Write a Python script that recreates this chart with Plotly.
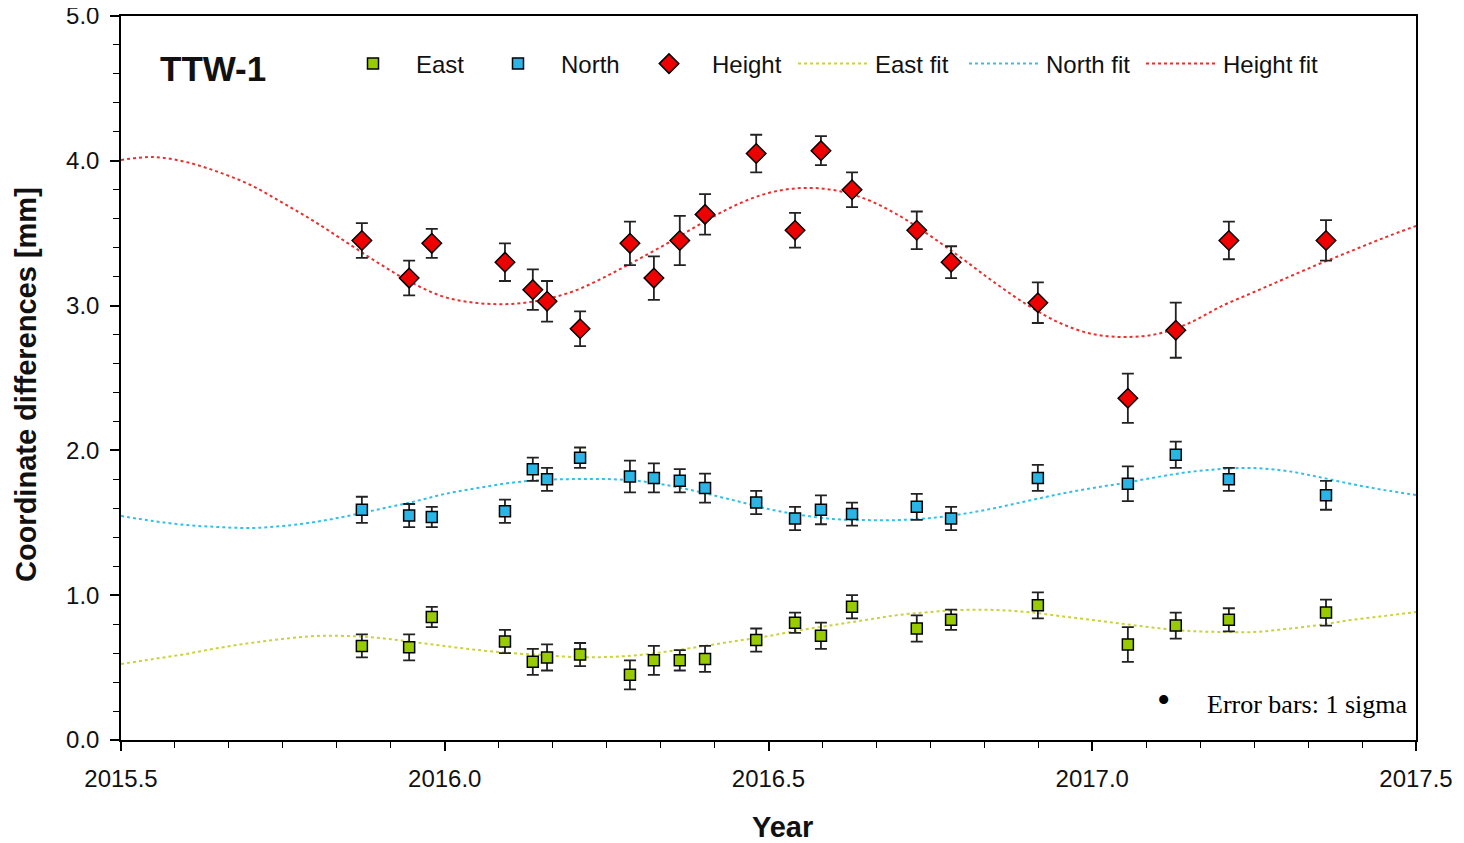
import plotly.graph_objects as go

# ---------------- data ----------------
t_obs = [2015.872, 2015.945, 2015.980, 2016.093, 2016.136, 2016.158, 2016.209,
         2016.286, 2016.323, 2016.363, 2016.402, 2016.481, 2016.541, 2016.581,
         2016.629, 2016.729, 2016.782, 2016.916, 2017.055, 2017.129, 2017.211,
         2017.361]

east = [0.65, 0.64, 0.85, 0.68, 0.54, 0.57, 0.59, 0.45, 0.55, 0.55, 0.56,
        0.69, 0.81, 0.72, 0.92, 0.77, 0.83, 0.93, 0.66, 0.79, 0.83, 0.88]
east_err = [0.08, 0.09, 0.07, 0.08, 0.09, 0.09, 0.08, 0.10, 0.10, 0.07, 0.09,
            0.08, 0.07, 0.09, 0.08, 0.09, 0.07, 0.09, 0.12, 0.09, 0.08, 0.09]

north = [1.59, 1.55, 1.54, 1.58, 1.87, 1.80, 1.95, 1.82, 1.81, 1.79, 1.74,
         1.64, 1.53, 1.59, 1.56, 1.61, 1.53, 1.81, 1.77, 1.97, 1.80, 1.69]
north_err = [0.09, 0.08, 0.07, 0.08, 0.08, 0.08, 0.07, 0.11, 0.10, 0.08, 0.10,
             0.08, 0.08, 0.10, 0.08, 0.09, 0.08, 0.09, 0.12, 0.09, 0.08, 0.10]

height = [3.45, 3.19, 3.43, 3.30, 3.11, 3.03, 2.84, 3.43, 3.19, 3.45, 3.63,
          4.05, 3.52, 4.07, 3.80, 3.52, 3.30, 3.02, 2.36, 2.83, 3.45, 3.45]
height_err = [0.12, 0.12, 0.10, 0.13, 0.14, 0.14, 0.12, 0.15, 0.15, 0.17, 0.14,
              0.13, 0.12, 0.10, 0.12, 0.13, 0.11, 0.14, 0.17, 0.19, 0.13, 0.14]

t_fit = [2015.50, 2015.55, 2015.60, 2015.65, 2015.70, 2015.75, 2015.80, 2015.85,
         2015.90, 2015.95, 2016.00, 2016.05, 2016.10, 2016.15, 2016.20, 2016.25,
         2016.30, 2016.35, 2016.40, 2016.45, 2016.50, 2016.55, 2016.60, 2016.65,
         2016.70, 2016.75, 2016.80, 2016.85, 2016.90, 2016.95, 2017.00, 2017.05,
         2017.10, 2017.15, 2017.20, 2017.25, 2017.30, 2017.35, 2017.40, 2017.45,
         2017.50]

east_fit = [0.525, 0.559, 0.594, 0.635, 0.670, 0.698, 0.718, 0.718, 0.704, 0.677,
            0.649, 0.622, 0.601, 0.587, 0.573, 0.573, 0.587, 0.615, 0.649, 0.684,
            0.718, 0.760, 0.794, 0.829, 0.863, 0.884, 0.898, 0.898, 0.884, 0.856,
            0.829, 0.801, 0.773, 0.753, 0.746, 0.746, 0.767, 0.794, 0.829, 0.856,
            0.884]

north_fit = [1.547, 1.512, 1.485, 1.471, 1.464, 1.478, 1.506, 1.547, 1.595, 1.644,
             1.699, 1.740, 1.775, 1.796, 1.802, 1.802, 1.789, 1.754, 1.706, 1.651,
             1.595, 1.554, 1.526, 1.519, 1.519, 1.533, 1.561, 1.602, 1.651, 1.699,
             1.740, 1.775, 1.816, 1.851, 1.872, 1.878, 1.858, 1.816, 1.768, 1.727,
             1.692]

height_fit = [4.006, 4.026, 3.992, 3.923, 3.833, 3.709, 3.577, 3.432, 3.287, 3.156,
              3.059, 3.018, 3.011, 3.039, 3.101, 3.204, 3.322, 3.446, 3.577, 3.695,
              3.778, 3.812, 3.798, 3.736, 3.626, 3.481, 3.322, 3.156, 3.004, 2.880,
              2.804, 2.783, 2.804, 2.880, 2.997, 3.094, 3.191, 3.287, 3.377, 3.467,
              3.550]

x_ticks = [2015.5, 2016.0, 2016.5, 2017.0, 2017.5]
x_tick_labels = ["2015.5", "2016.0", "2016.5", "2017.0", "2017.5"]
y_ticks = [0, 1, 2, 3, 4, 5]
y_tick_labels = ["0.0", "1.0", "2.0", "3.0", "4.0", "5.0"]

# ---------------- styles ----------------
SANS = "Liberation Sans, Arial, sans-serif"
C_EAST, C_NORTH, C_HEIGHT = "#99cc00", "#29b6e6", "#ee0000"
C_EAST_FIT, C_NORTH_FIT, C_HEIGHT_FIT = "#c9d33a", "#33c0e8", "#e8302f"

fig = go.Figure()

for name, y, col, lg in [("East fit", east_fit, C_EAST_FIT, "legend4"),
                         ("North fit", north_fit, C_NORTH_FIT, "legend5"),
                         ("Height fit", height_fit, C_HEIGHT_FIT, "legend6")]:
    fig.add_trace(go.Scatter(x=t_fit, y=y, mode="lines", name=name, legend=lg,
                             line=dict(color=col, width=2, dash="dot", shape="spline")))

for name, y, err, col, sym, sz, lg in [
        ("East", east, east_err, C_EAST, "square", 11, "legend"),
        ("North", north, north_err, C_NORTH, "square", 11, "legend2"),
        ("Height", height, height_err, C_HEIGHT, "diamond", 15, "legend3")]:
    fig.add_trace(go.Scatter(
        x=t_obs, y=y, mode="markers", name=name, legend=lg,
        marker=dict(symbol=sym, size=sz, color=col, line=dict(color="black", width=1.5)),
        error_y=dict(type="data", array=err, visible=True, color="#222222",
                     thickness=1.8, width=6)))

# page offset (body margin) is 8px; target plot box in screen pixels:
OFF = 8
X0, X1, Y0, Y1 = 121, 1416, 740, 16
def px(xp):
    return (xp - X0) / (X1 - X0)
def py(yp):
    return (Y0 - yp) / (Y0 - Y1)

leg_font = dict(family=SANS, size=24, color="#111111")
legend_starts = {"legend": (330, 76), "legend2": (475, 76), "legend3": (626, 76),
                 "legend4": (793, 72), "legend5": (964, 72), "legend6": (1141, 72)}
legend_layout = {}
for k, (xs, iw) in legend_starts.items():
    legend_layout[k] = dict(x=px(xs), y=py(64), xanchor="left", yanchor="middle",
                            bgcolor="rgba(0,0,0,0)", borderwidth=0, font=leg_font,
                            orientation="h", itemwidth=iw)

fig.update_layout(
    width=1464 - OFF, height=843 - OFF,
    margin=dict(l=X0 - OFF, r=1464 - X1, t=Y1 - OFF, b=843 - Y0, autoexpand=False),
    paper_bgcolor="white", plot_bgcolor="white",
    showlegend=True,
    **legend_layout,
    xaxis=dict(range=[2015.5, 2017.5], tickmode="array", tickvals=x_ticks,
               ticktext=x_tick_labels, ticks="outside", ticklen=9, tickwidth=1.5,
               tickcolor="black", showline=True, linecolor="black", linewidth=1.5,
               mirror=True, showgrid=False, zeroline=False, automargin=False,
               tickfont=dict(family=SANS, size=24, color="#111111"),
               ticklabelstandoff=7, ticklabeloverflow="allow",
               minor=dict(dtick=1/12, tick0=2015.5, ticks="outside", ticklen=6,
                          tickwidth=1.2, tickcolor="black", showgrid=False)),
    yaxis=dict(range=[0, 5], tickmode="array", tickvals=y_ticks,
               ticktext=y_tick_labels, ticks="outside", ticklen=9, tickwidth=1.5,
               tickcolor="black", showline=True, linecolor="black", linewidth=1.5,
               mirror=True, showgrid=False, zeroline=False, automargin=False,
               tickfont=dict(family=SANS, size=24, color="#111111"),
               ticklabelstandoff=6, ticklabeloverflow="allow",
               minor=dict(dtick=0.2, tick0=0, ticks="outside", ticklen=6,
                          tickwidth=1.2, tickcolor="black", showgrid=False)),
    annotations=[
        dict(text="<b>TTW-1</b>", x=px(213), y=py(68), xref="paper", yref="paper",
             showarrow=False, xanchor="center", yanchor="middle",
             font=dict(family=SANS, size=35, color="#111111")),
        dict(text="<b>Year</b>", x=px(782), y=py(827), xref="paper", yref="paper",
             showarrow=False, xanchor="center", yanchor="middle",
             font=dict(family=SANS, size=29, color="#111111")),
        dict(text="<b>Coordinate differences [mm]</b>", x=px(26), y=py(385),
             xref="paper", yref="paper", showarrow=False, textangle=-90,
             xanchor="center", yanchor="middle",
             font=dict(family=SANS, size=29, color="#111111")),
        dict(text="•", x=px(1163), y=py(700), xref="paper", yref="paper",
             showarrow=False, xanchor="center", yanchor="middle",
             font=dict(family="Liberation Serif, serif", size=38, color="black")),
        dict(text="Error bars: 1 sigma", x=px(1205), y=py(704), xref="paper", yref="paper",
             showarrow=False, xanchor="left", yanchor="middle",
             font=dict(family="Liberation Serif, serif", size=26, color="black")),
    ],
)

fig.write_html("out.html")
